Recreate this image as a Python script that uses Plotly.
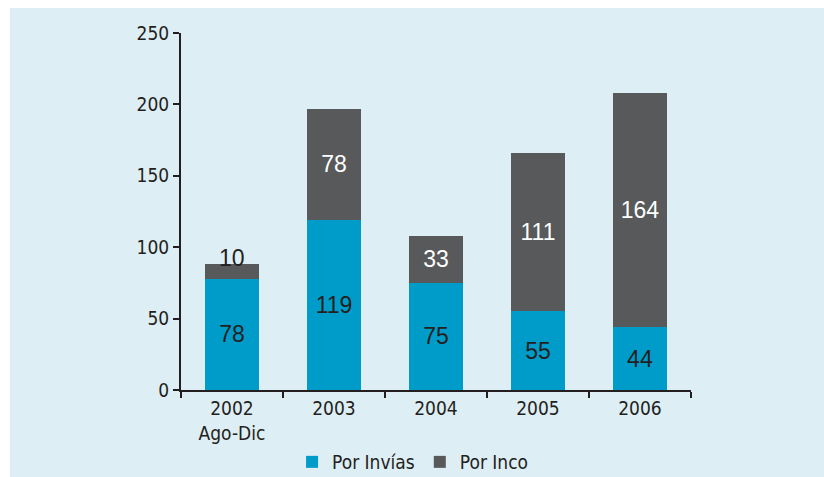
import plotly.graph_objects as go

categories = ["2002<br>Ago-Dic", "2003", "2004", "2005", "2006"]
por_invias = [78, 119, 75, 55, 44]
por_inco = [10, 78, 33, 111, 164]
y_ticks = [0, 50, 100, 150, 200, 250]

BLUE = "#009cc9"
GRAY = "#58595b"
BG = "#deeef5"
TXT = "#231f20"
TICKFONT = "Liberation Sans Narrow, DejaVu Sans Condensed, Arial Narrow, sans-serif"
LABFONT = "Liberation Sans, Arial, sans-serif"

L, R, T, B = 181, 133, 33, 87
W, H = 824, 477
pw, ph = W - L - R, H - T - B

fig = go.Figure()
fig.add_trace(go.Bar(
    x=categories, y=por_invias, name="Por Invías",
    marker=dict(color=BLUE, line=dict(width=0)),
    text=[str(v) for v in por_invias], textposition="inside",
    insidetextanchor="middle",
    textfont=dict(color=TXT, size=23, family=LABFONT),
))
inco_text = ["" if v < 15 else str(v) for v in por_inco]
fig.add_trace(go.Bar(
    x=categories, y=por_inco, name="Por Inco",
    marker=dict(color=GRAY, line=dict(width=0)),
    text=inco_text, textposition="inside",
    insidetextanchor="middle",
    textfont=dict(color="white", size=23, family=LABFONT),
))
# small segment label sits on top of its bar
for c, a, b in zip(categories, por_invias, por_inco):
    if b < 15:
        fig.add_annotation(x=c, y=a + b, text=str(b), showarrow=False,
                           yanchor="middle", yshift=6,
                           font=dict(color=TXT, size=23, family=LABFONT))

fig.update_layout(
    width=W, height=H,
    margin=dict(l=L, r=R, t=T, b=B, autoexpand=False),
    barmode="stack",
    bargap=0.47,
    paper_bgcolor="white",
    plot_bgcolor="rgba(0,0,0,0)",
    showlegend=True,
    legend=dict(orientation="h", x=0.455, xanchor="center", y=-0.2017, yanchor="middle",
                font=dict(family=TICKFONT, size=19, color=TXT),
                itemwidth=30, bgcolor="rgba(0,0,0,0)", traceorder="normal"),
    shapes=[dict(type="rect", xref="paper", yref="paper", layer="below",
                 x0=(10 - L) / pw, x1=(W - L) / pw,
                 y0=-(B + 5) / ph, y1=(H - B - 8) / ph,
                 fillcolor=BG, line=dict(width=0))],
)
fig.update_xaxes(
    showline=True, linecolor=TXT, linewidth=2, automargin=False,
    ticks="outside", tickson="boundaries", ticklen=6, tickcolor=TXT, tickwidth=2,
    tickfont=dict(family=TICKFONT, size=19, color=TXT),
    showgrid=False,
)
fig.update_yaxes(
    range=[0, 250], tickvals=y_ticks, showline=True, linecolor=TXT, linewidth=2,
    automargin=False,
    ticks="outside", ticklen=6, tickcolor=TXT, tickwidth=2,
    tickfont=dict(family=TICKFONT, size=19, color=TXT),
    showgrid=False, zeroline=False,
)

fig.write_html("out.html", config={"displayModeBar": False},
               post_script="document.body.style.margin='0';document.body.style.overflow='hidden';")
